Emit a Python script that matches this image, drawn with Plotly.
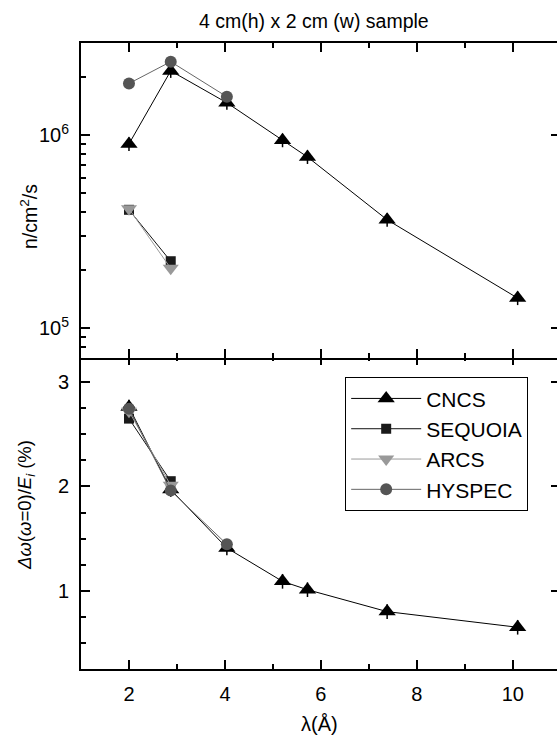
import plotly.graph_objects as go

# ---- data ----
lam_cncs = [2.0, 2.87, 4.04, 5.2, 5.72, 7.38, 10.1]
flux_cncs = [9.0e5, 2.15e6, 1.47e6, 9.4e5, 7.7e5, 3.64e5, 1.43e5]
res_cncs = [2.76, 1.97, 1.41, 1.09, 1.01, 0.80, 0.65]
flux_err_pct = 8.0
res_err_cncs = [0.07, 0.07, 0.07, 0.07, 0.07, 0.07, 0.07]

lam_seq = [2.0, 2.87]
flux_seq = [4.1e5, 2.22e5]
res_seq = [2.65, 2.05]

lam_arcs = [2.0, 2.87]
flux_arcs = [4.15e5, 2.04e5]
res_arcs = [2.72, 2.01]

lam_hys = [2.0, 2.87, 4.04]
flux_hys = [1.85e6, 2.40e6, 1.58e6]
res_hys = [2.745, 1.96, 1.445]

names = ["CNCS", "SEQUOIA", "ARCS", "HYSPEC"]
title_text = "4 cm(h) x 2 cm (w) sample"

FONT = "Liberation Sans, Arial, sans-serif"

styles = {
    "CNCS": dict(symbol="triangle-up", size=15, mcolor="#000000", lcolor="#000000"),
    "SEQUOIA": dict(symbol="square", size=10, mcolor="#1a1a1a", lcolor="#111111"),
    "ARCS": dict(symbol="triangle-down", size=14, mcolor="#999999", lcolor="#9a9a9a"),
    "HYSPEC": dict(symbol="circle", size=12, mcolor="#555555", lcolor="#666666"),
}

series = {
    "CNCS": (lam_cncs, flux_cncs, res_cncs),
    "SEQUOIA": (lam_seq, flux_seq, res_seq),
    "ARCS": (lam_arcs, flux_arcs, res_arcs),
    "HYSPEC": (lam_hys, flux_hys, res_hys),
}

fig = go.Figure()
for n in names:
    x, f, r = series[n]
    s = styles[n]
    kw_top = {}
    kw_bot = {}
    if n == "CNCS":
        kw_top["error_y"] = dict(type="percent", value=flux_err_pct, color="#000000", thickness=1.5, width=0)
        kw_bot["error_y"] = dict(type="data", array=res_err_cncs, color="#000000", thickness=1.5, width=0)
    fig.add_trace(go.Scatter(
        x=x, y=f, mode="lines+markers", name=n, showlegend=False,
        line=dict(color=s["lcolor"], width=1),
        marker=dict(symbol=s["symbol"], size=s["size"], color=s["mcolor"]),
        xaxis="x2", yaxis="y2", **kw_top))
    fig.add_trace(go.Scatter(
        x=x, y=r, mode="lines+markers", name=n, showlegend=True,
        line=dict(color=s["lcolor"], width=1),
        marker=dict(symbol=s["symbol"], size=s["size"], color=s["mcolor"]),
        xaxis="x", yaxis="y", **kw_bot))

TICKFONT = dict(family=FONT, size=20, color="black")
axis_common = dict(showline=True, linecolor="black", linewidth=2, ticks="inside",
                   tickcolor="black", tickwidth=1.5, ticklen=9, showgrid=False,
                   zeroline=False, tickfont=TICKFONT)

PLOT_H = 735 - 43 - 66
gap = 2.0 / PLOT_H

fig.update_layout(
    width=557, height=735,
    margin=dict(l=81, r=0, t=43, b=66),
    paper_bgcolor="white", plot_bgcolor="white",
    font=dict(family=FONT, size=19, color="black"),
    showlegend=True,
    legend=dict(x=0.555, y=0.466, xanchor="left", yanchor="top",
                bordercolor="black", borderwidth=1, bgcolor="white",
                font=dict(family=FONT, size=21, color="black"),
                itemwidth=70, tracegroupgap=0),
    xaxis=dict(domain=[0, 1], anchor="y", range=[1, 10.92], dtick=2, tick0=0,
               mirror="ticks", ticklabelstandoff=6,
               minor=dict(ticks="inside", dtick=1, ticklen=5, tickwidth=1.5, tickcolor="black"),
               **axis_common),
    xaxis2=dict(domain=[0, 1], anchor="y2", range=[1, 10.92], dtick=2, tick0=0,
                mirror="ticks", showticklabels=False, matches="x",
                minor=dict(ticks="inside", dtick=1, ticklen=5, tickwidth=1.5, tickcolor="black"),
                **axis_common),
    yaxis=dict(domain=[0, 0.5], anchor="x", range=[0.25, 3.25], tickvals=[1, 2, 3],
               ticklabelstandoff=6,
               minor=dict(ticks="inside", dtick=0.25, tick0=0, ticklen=4.5, tickwidth=1.5, tickcolor="black"),
               **axis_common),
    yaxis2=dict(domain=[0.5 - gap, 1], anchor="x2", type="log",
                range=[4.845, 6.477], tickvals=[1e5, 1e6],
                ticktext=["10<sup>5</sup>", "10<sup>6</sup>"], ticklabelstandoff=6,
                minor=dict(ticks="inside", dtick="D1", ticklen=4.5, tickwidth=1.5, tickcolor="black"),
                **axis_common),
    yaxis3=dict(overlaying="y", side="right", anchor="x", range=[0.25, 3.25],
                tickvals=[1, 2, 3], showticklabels=False, showline=False,
                ticks="inside", ticklen=6, tickwidth=1.5, tickcolor="black",
                showgrid=False, zeroline=False),
    yaxis4=dict(overlaying="y2", side="right", anchor="x2", type="log",
                range=[4.845, 6.477], tickvals=[1e5, 1e6], showticklabels=False,
                showline=False, ticks="inside", ticklen=6, tickwidth=1.5,
                tickcolor="black", showgrid=False, zeroline=False),
    annotations=[
        dict(text=title_text, xref="paper", yref="paper", x=0.49, y=1, yshift=22,
             xanchor="center", yanchor="middle", showarrow=False,
             font=dict(family=FONT, size=19.5, color="black")),
        dict(text="n/cm<sup>2</sup>/s", xref="paper", yref="paper", x=0, y=0.722,
             xshift=-52, xanchor="center", yanchor="middle", textangle=-90,
             showarrow=False, font=dict(family=FONT, size=19.5, color="black")),
        dict(text="<i>Δω</i>(<i>ω</i>=0)/<i>E<sub>i</sub></i> (%)", xref="paper", yref="paper",
             x=0, y=0.262, xshift=-55, xanchor="center", yanchor="middle", textangle=-90,
             showarrow=False, font=dict(family=FONT, size=18.5, color="black")),
        dict(text="λ(Å)", xref="paper", yref="paper", x=0.5, y=0, yshift=-55,
             xanchor="center", yanchor="middle", showarrow=False,
             font=dict(family=FONT, size=20, color="black")),
    ],
)

# dummy traces to activate right-side overlay axes
fig.add_trace(go.Scatter(x=[None], y=[None], xaxis="x", yaxis="y3", showlegend=False, hoverinfo="skip"))
fig.add_trace(go.Scatter(x=[None], y=[None], xaxis="x2", yaxis="y4", showlegend=False, hoverinfo="skip"))

fig.write_html("out.html")
